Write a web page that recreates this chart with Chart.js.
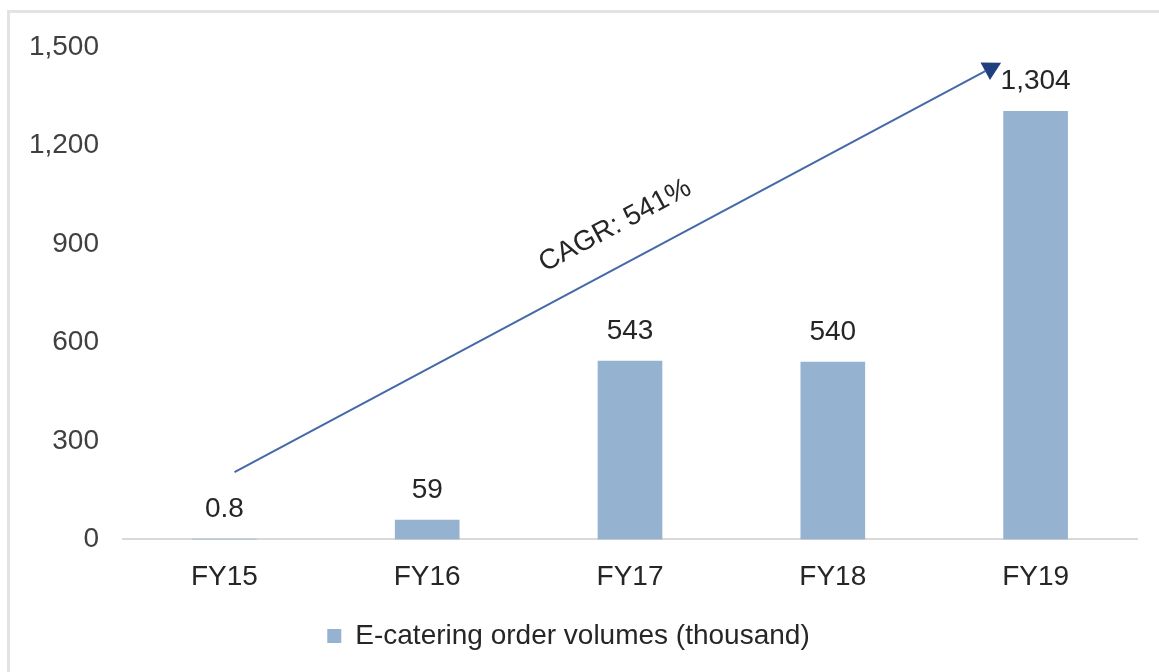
<!DOCTYPE html>
<html>
<head>
<meta charset="utf-8">
<script src="https://cdn.jsdelivr.net/npm/chart.js@4.4.1/dist/chart.umd.min.js"></script>
<style>
  html, body { margin: 0; padding: 0; background: #fff; }
  #frame {
    position: absolute; left: 7px; top: 10px; width: 1200px; height: 700px;
    border: 3px solid #e3e3e3; box-sizing: border-box;
  }
  #wrap { position: absolute; left: 0; top: 0; width: 1159px; height: 672px; }
</style>
</head>
<body>
<div id="frame"></div>
<div id="wrap"><canvas id="chart"></canvas></div>
<script>
const categories = ['FY15', 'FY16', 'FY17', 'FY18', 'FY19'];
const orderVolumes = [0.8, 59, 543, 540, 1304];
const valueLabels = ['0.8', '59', '543', '540', '1,304'];
const seriesName = 'E-catering order volumes (thousand)';
const yTicks = [0, 300, 600, 900, 1200, 1500];

// CAGR arrow, in (category index, value) units
const arrowFrom = { x: 0.05, y: 205 };
const arrowTo = { x: 3.83, y: 1452 };
const arrowText = 'CAGR: 541%';

const FONT = '"Liberation Sans", Arial, sans-serif';
const FONT_SIZE = 28;
const BAR_COLOR = '#95b3d0';

function xPix(scale, idx) {
  const a = scale.getPixelForTick(0);
  const b = scale.getPixelForTick(1);
  return a + (b - a) * idx;
}

const overlay = {
  id: 'overlay',
  afterDatasetsDraw(chart) {
    const ctx = chart.ctx;
    const x = chart.scales.x, y = chart.scales.y;

    // value labels above bars
    const meta = chart.getDatasetMeta(0);
    ctx.save();
    ctx.font = FONT_SIZE + 'px ' + FONT;
    ctx.fillStyle = '#262626';
    ctx.textAlign = 'center';
    ctx.textBaseline = 'middle';
    meta.data.forEach((bar, i) => {
      ctx.fillText(valueLabels[i], bar.x, bar.y - 30);
    });

    // arrow
    const x0 = xPix(x, arrowFrom.x), y0 = y.getPixelForValue(arrowFrom.y);
    const x1 = xPix(x, arrowTo.x), y1 = y.getPixelForValue(arrowTo.y);
    const ang = Math.atan2(y1 - y0, x1 - x0);
    const headLen = 18, headHalf = 10;
    const bx = x1 - Math.cos(ang) * headLen, by = y1 - Math.sin(ang) * headLen;
    ctx.strokeStyle = '#4468a8';
    ctx.lineWidth = 2;
    ctx.beginPath();
    ctx.moveTo(x0, y0);
    ctx.lineTo(bx, by);
    ctx.stroke();
    ctx.fillStyle = '#1f3f7f';
    ctx.beginPath();
    ctx.moveTo(x1, y1);
    ctx.lineTo(bx + Math.sin(ang) * headHalf, by - Math.cos(ang) * headHalf);
    ctx.lineTo(bx - Math.sin(ang) * headHalf, by + Math.cos(ang) * headHalf);
    ctx.closePath();
    ctx.fill();

    // CAGR text along the arrow
    const t = 0.52, off = 38;
    const px = x0 + (x1 - x0) * t + Math.sin(ang) * off;
    const py = y0 + (y1 - y0) * t - Math.cos(ang) * off;
    ctx.translate(px, py);
    ctx.rotate(ang);
    ctx.fillStyle = '#262626';
    ctx.fillText(arrowText, 0, 0);
    ctx.restore();
  }
};

new Chart(document.getElementById('chart'), {
  type: 'bar',
  data: {
    labels: categories,
    datasets: [{
      label: seriesName,
      data: orderVolumes,
      backgroundColor: BAR_COLOR,
      barThickness: 64,
    }],
  },
  options: {
    responsive: true,
    maintainAspectRatio: false,
    animation: false,
    layout: { padding: { top: 47, right: 22, bottom: 12, left: 0 } },
    plugins: {
      legend: {
        position: 'bottom',
        labels: {
          color: '#262626', boxWidth: 14, boxHeight: 14, padding: 7,
          font: { family: FONT, size: FONT_SIZE },
        },
      },
      tooltip: { enabled: false },
    },
    scales: {
      x: {
        grid: { display: false, drawTicks: false },
        border: { display: true, color: '#d9d9d9', width: 2 },
        ticks: { color: '#262626', padding: 21, font: { family: FONT, size: FONT_SIZE } },
      },
      y: {
        min: 0,
        max: 1500,
        afterFit: s => { s.width = 123; },
        afterBuildTicks: s => { s.ticks = yTicks.map(v => ({ value: v })); },
        grid: { display: false, drawTicks: false },
        border: { display: false },
        ticks: {
          color: '#404040', padding: 24,
          font: { family: FONT, size: FONT_SIZE },
          callback: v => v.toLocaleString('en-US'),
        },
      },
    },
  },
  plugins: [overlay],
});
</script>
</body>
</html>
